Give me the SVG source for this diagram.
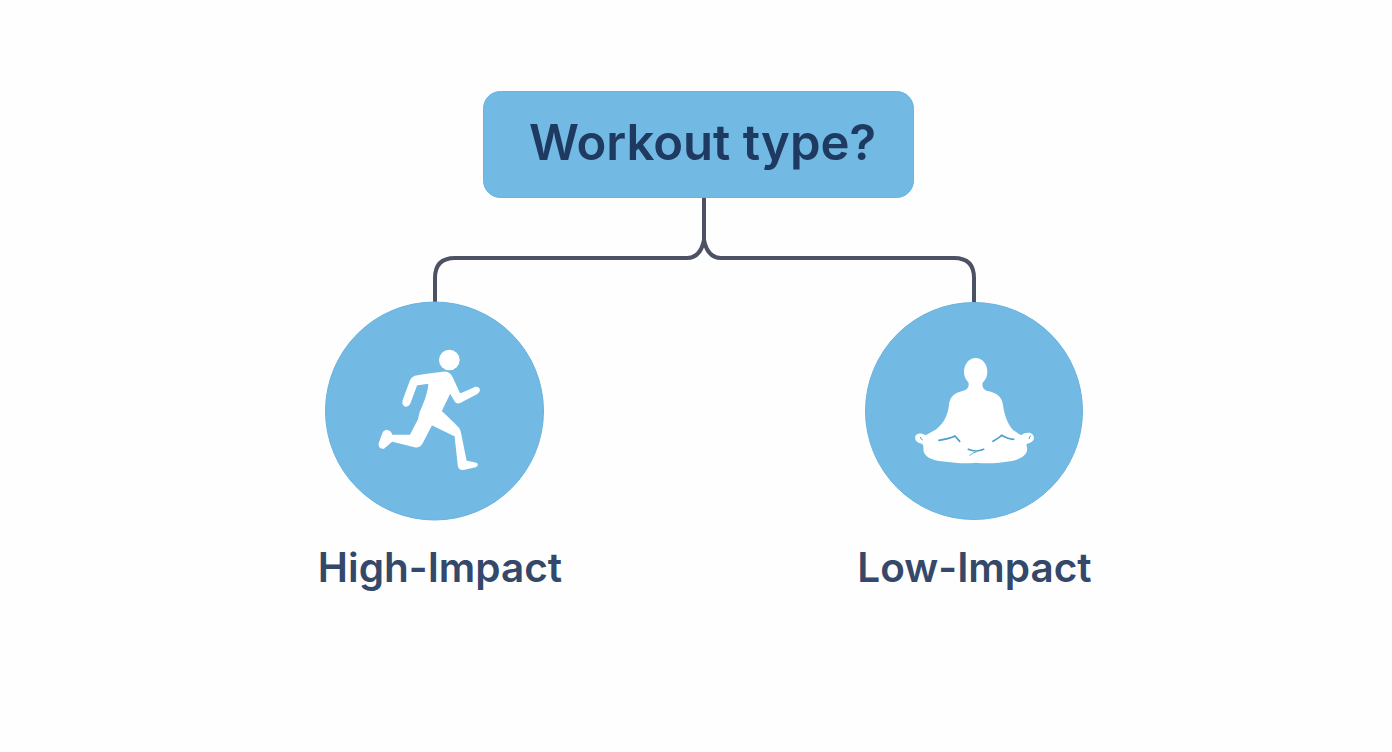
<svg xmlns="http://www.w3.org/2000/svg" width="1392" height="752" viewBox="0 0 1392 752">
<style>
.shape{fill:#72b9e4;stroke:#69b3e0;stroke-width:1}
.wire{fill:none;stroke:#4c5263;stroke-width:4;stroke-linecap:butt}
.icon{fill:#fff;stroke:#fff;stroke-width:9;stroke-linejoin:round}
.gap{fill:none;stroke:#4b9dd0;stroke-width:5;stroke-linecap:round}
.label{font-family:Inter,"Liberation Sans",sans-serif;font-weight:600;text-anchor:middle}
</style>
<rect width="1392" height="752" fill="#fefefe"/>
<g id="connectors">
<path class="wire" d="M704 197V240C702 250 697 258 687 258H455Q435 258 435 278V304"/>
<path class="wire" d="M704 240C706 250 711 258 721 258H954Q974 258 974 278V304"/>
</g>
<g id="node-question">
<rect class="shape" x="483.500" y="91.500" width="430" height="106" rx="17"/>
<text class="label" x="702.500" y="160" font-size="49" fill="#1f3a60">Workout type?</text>
</g>
<g id="node-high-impact">
<circle class="shape" cx="434.500" cy="411" r="109"/>
<g transform="translate(360 340) scale(.33333)">
<circle cx="268" cy="60" r="31" fill="#fff"/>
<path class="icon" d="M255 99 Q205 104 165 112 Q156 116 152 128 L132 182 Q130 194 138 196 Q146 194 148 186 L168 132 L210 126 Q208 160 192 197 Q182 215 178 240 L153 288 L94 289 Q90 274 78 274 Q72 276 70 284 L60 312 Q60 323 70 322 L95 300 L168 318 Q178 318 184 308 L214 250 L288 286 L298 378 Q300 387 312 385 L346 377 Q352 373 346 372 L316 366 L298 276 Q294 264 284 256 L240 214 L270 152 L288 182 Q292 188 300 184 L350 158 Q358 152 354 147 Q348 142 340 148 L298 166 L274 114 Q268 100 255 99Z"/>
</g>
</g>
<g id="node-low-impact">
<circle class="shape" cx="974" cy="411" r="108.500"/>
<g transform="translate(905 350) scale(.33333)">
<ellipse cx="212" cy="65" rx="35" ry="41" fill="#fff"/>
<path fill="#fff" d="M190 96 C194 112 186 120 170 124 C148 130 134 140 132 165 C128 195 120 215 94 238 L62 256 C50 248 36 248 31 258 C28 272 38 280 50 281 C58 285 54 295 56 305 C62 325 90 333 130 336 C160 340 190 341 212 338 C240 342 285 340 315 334 C350 328 370 312 366 292 C364 284 362 282 372 280 C390 274 392 256 376 249 C365 246 355 250 348 256 L324 240 C307 220 298 195 294 165 C290 138 274 130 252 124 C236 120 230 112 233 96 Z"/>
<path class="gap" d="M102 271 Q135 266 150 258 L164 274"/>
<path class="gap" d="M264 274 Q285 262 290 256 Q310 268 326 268"/>
<path class="gap" d="M190 298 Q212 308 236 298"/>
<path class="gap" d="M194 316 Q205 306 214 306" style="stroke-width:2.500"/>
<path class="gap" d="M46 262 L52 270 M376 258 L372 266" style="stroke-width:3"/>
</g>
</g>
<text class="label" x="440" y="582" font-size="40.500" fill="#34486a">High-Impact</text>
<text class="label" x="974.500" y="582" font-size="40.500" fill="#34486a">Low-Impact</text>
</svg>
